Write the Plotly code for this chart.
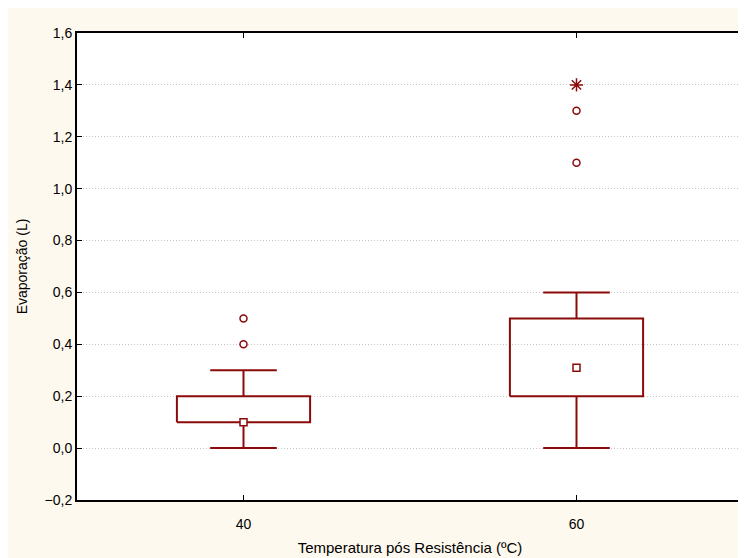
import plotly.graph_objects as go

# ---- data ----
categories = ["40", "60"]
q1 = [0.1, 0.2]
q3 = [0.2, 0.5]
median = [0.1, 0.31]
whisker_low = [0.0, 0.0]
whisker_high = [0.3, 0.6]
outliers = [[0.4, 0.5], [1.1, 1.3]]
extremes = [[], [1.4]]
y_ticks = [-0.2, 0.0, 0.2, 0.4, 0.6, 0.8, 1.0, 1.2, 1.4, 1.6]

RED = "#8B0A0A"
BOX_HW = 0.2
CAP_HW = 0.1

fig = go.Figure()
for i, cat in enumerate(categories):
    # box outline
    fig.add_trace(go.Scatter(
        x=[i - BOX_HW, i + BOX_HW, i + BOX_HW, i - BOX_HW, i - BOX_HW],
        y=[q1[i], q1[i], q3[i], q3[i], q1[i]],
        mode="lines", line=dict(color=RED, width=2), showlegend=False, hoverinfo="skip"))
    # whiskers
    fig.add_trace(go.Scatter(
        x=[i, i, None, i - CAP_HW, i + CAP_HW, None, i, i, None, i - CAP_HW, i + CAP_HW],
        y=[q3[i], whisker_high[i], None, whisker_high[i], whisker_high[i], None,
           q1[i], whisker_low[i], None, whisker_low[i], whisker_low[i]],
        mode="lines", line=dict(color=RED, width=2), showlegend=False, hoverinfo="skip"))
    # median marker
    fig.add_trace(go.Scatter(
        x=[i], y=[median[i]], mode="markers",
        marker=dict(symbol="square", size=7, color="white", line=dict(color=RED, width=1.5)),
        showlegend=False))
    # outliers
    if outliers[i]:
        fig.add_trace(go.Scatter(
            x=[i] * len(outliers[i]), y=outliers[i], mode="markers",
            marker=dict(symbol="circle", size=7, color="white", line=dict(color=RED, width=1.5)),
            showlegend=False))
    if extremes[i]:
        fig.add_trace(go.Scatter(
            x=[i] * len(extremes[i]), y=extremes[i], mode="markers",
            marker=dict(symbol="asterisk-open", size=11, color=RED, line=dict(color=RED, width=1.5)),
            showlegend=False))

fig.update_layout(
    width=738, height=550,
    margin=dict(l=69, r=3, t=25, b=58, autoexpand=False),
    paper_bgcolor="#FEF9EE",
    plot_bgcolor="white",
    separators=",.",
    font=dict(family="Liberation Sans, Arial, sans-serif", size=14, color="black"),
    xaxis=dict(
        range=[-0.5, 1.5], tickvals=list(range(len(categories))), ticktext=categories,
        showgrid=False, zeroline=False, showline=True, linecolor="black", linewidth=2,
        mirror="ticks", ticks="inside", ticklen=5, tickcolor="black", tickwidth=1,
        tickfont=dict(size=14), ticklabelstandoff=10,
        title=dict(text="Temperatura pós Resistência (ºC)", standoff=12,
                   font=dict(family="Liberation Sans Narrow, Liberation Sans, Arial", size=15)),
    ),
    yaxis=dict(
        range=[-0.2, 1.6], tickvals=y_ticks, tickformat=".1f",
        showgrid=True, gridcolor="#C4C4C4", griddash="1px,2px", gridwidth=1,
        zeroline=False, showline=True, linecolor="black", linewidth=2,
        mirror="ticks", ticks="inside", ticklen=5, tickcolor="black", tickwidth=1,
        tickfont=dict(size=14),
        title=dict(text="Evaporação (L)", standoff=14,
                   font=dict(family="Liberation Sans, Arial", size=14)),
    ),
)

fig.write_html("out.html")
